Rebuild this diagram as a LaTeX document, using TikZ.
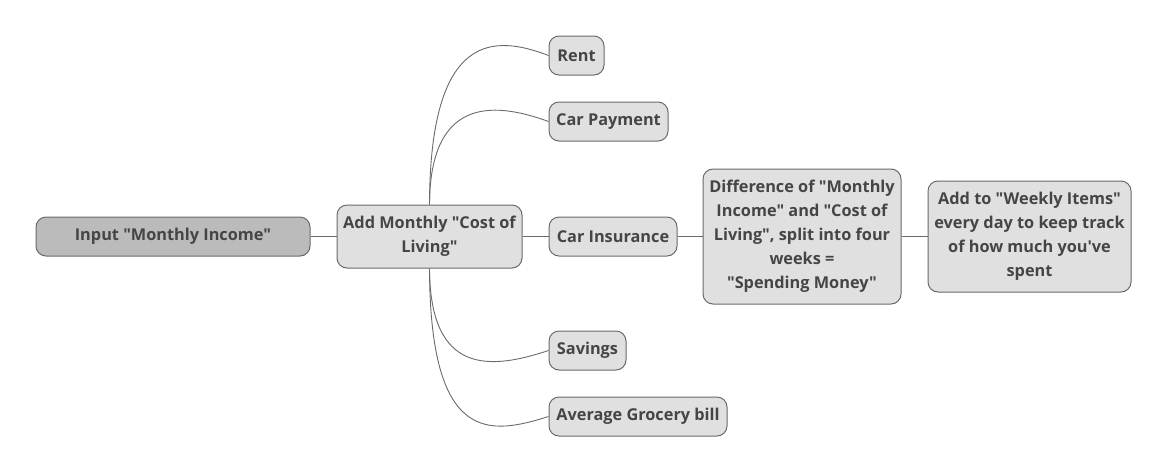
\documentclass[tikz,border=0pt]{standalone}
\usepackage{fontspec}
\setmainfont{Open Sans}[Ligatures=TeXOff]
\definecolor{txt}{HTML}{454545}
\definecolor{edge}{HTML}{6A6A6A}
\definecolor{boxfill}{HTML}{E0E0E0}
\definecolor{rootfill}{HTML}{BBBBBB}
\tikzset{
  box/.style={draw=edge, fill=boxfill, rounded corners=10pt, line width=1pt,
    text=txt, font=\bfseries\fontsize{16.3}{24}\selectfont, align=center,
    inner sep=0pt, anchor=center},
  conn/.style={draw=edge, line width=0.9pt},
}
\begin{document}
\begin{tikzpicture}[x=1pt,y=-1pt]
\useasboundingbox (0,0) rectangle (1169,475);
\node[box, fill=rootfill, minimum width=274pt, minimum height=39pt] (root) at (173,236.5) {Input "Monthly Income"};
\node[box, minimum width=185pt, minimum height=63pt] (cost) at (429.5,236.5) {Add Monthly "Cost of\\Living"};
\node[box, minimum width=55pt, minimum height=39pt] (rent) at (576.5,55.5) {Rent};
\node[box, minimum width=119pt, minimum height=39pt] (carpay) at (608.5,121.5) {Car Payment};
\node[box, minimum width=128pt, minimum height=39pt] (carins) at (613,236.5) {Car Insurance};
\node[box, minimum width=77pt, minimum height=39pt] (sav) at (587.5,350.5) {Savings};
\node[box, minimum width=178pt, minimum height=39pt] (groc) at (638,416.5) {Average Grocery bill};
\node[box, minimum width=198pt, minimum height=135pt] (diff) at (802,236.5) {Difference of "Monthly\\Income" and "Cost of\\Living", split into four\\weeks =\\"Spending Money"};
\node[box, minimum width=203pt, minimum height=111pt] (week) at (1029.5,236.5) {Add to "Weekly Items"\\every day to keep track\\of how much you've\\spent};
\draw[conn] (root.east) -- (cost.west);
\draw[conn] (cost.east) -- (carins.west);
\draw[conn] (carins.east) -- (diff.west);
\draw[conn] (diff.east) -- (week.west);
\draw[conn] (cost.north) .. controls (430,30) and (495,35) .. (rent.west);
\draw[conn] (cost.north) .. controls (430,100) and (490,100) .. (carpay.west);
\draw[conn] (cost.south) .. controls (430,375) and (490,370) .. (sav.west);
\draw[conn] (cost.south) .. controls (430,445) and (490,435) .. (groc.west);
\end{tikzpicture}
\end{document}
